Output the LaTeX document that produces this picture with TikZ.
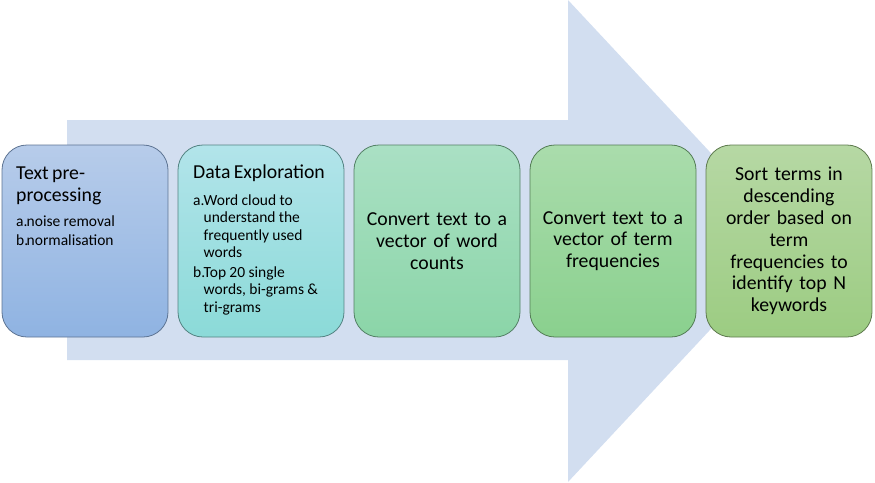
\documentclass[tikz,border=0pt]{standalone}
\usepackage{fontspec}
\setmainfont{Carlito}
\usepackage{xcolor}
\usepackage{tikz}
\usetikzlibrary{positioning}

\definecolor{arrowfill}{RGB}{210,222,240}
\definecolor{preTop}{RGB}{183,204,234}
\definecolor{preBot}{RGB}{143,179,226}
\definecolor{expTop}{RGB}{178,228,234}
\definecolor{expBot}{RGB}{139,218,216}
\definecolor{cntTop}{RGB}{170,224,196}
\definecolor{cntBot}{RGB}{139,213,168}
\definecolor{tfTop}{RGB}{170,220,172}
\definecolor{tfBot}{RGB}{138,208,142}
\definecolor{srtTop}{RGB}{182,216,164}
\definecolor{srtBot}{RGB}{156,204,130}

\newcommand{\titlefont}{\fontsize{19.75}{21.8}\selectfont}
\newcommand{\itemfont}{\fontsize{15.5}{17.5}\selectfont}
\newcommand{\stageitem}[2]{\noindent\makebox[10.5pt][l]{\strut #1}\parbox[t]{130pt}{\raggedright #2\strut}\par}

\tikzset{
  stagebox/.style={line width=0.8pt, rounded corners=25pt, minimum width=166pt,
    minimum height=192pt, inner sep=0pt, outer sep=0pt, text width=152pt,
    align=center, font=\titlefont},
  stagetext/.style={inner sep=0pt, text width=146pt, align=left, anchor=north west}
}

\begin{document}
\begin{tikzpicture}[x=1pt, y=-1pt]
\useasboundingbox (0,0) rectangle (875,482);

% big background arrow
\fill[arrowfill] (67,120) -- (568,120) -- (568,0) -- (793,241) -- (568,482)
  -- (568,360) -- (67,360) -- cycle;

% the five stages
\node[stagebox, draw=preBot!65!black, top color=preTop, bottom color=preBot] (prep) at (85,241) {};
\node[stagebox, draw=expBot!60!black, top color=expTop, bottom color=expBot, right=10pt of prep] (explore) {};
\node[stagebox, draw=cntBot!60!black, top color=cntTop, bottom color=cntBot, right=10pt of explore] (counts)
  {Convert text to a\\vector of word\\counts};
\node[stagebox, draw=tfBot!60!black, top color=tfTop, bottom color=tfBot, right=10pt of counts] (termfreq)
  {Convert text to a\\vector of term\\frequencies};
\node[stagebox, draw=srtBot!60!black, top color=srtTop, bottom color=srtBot, right=10pt of termfreq] (sortterms)
  {Sort terms in\\descending\\order based on\\term\\frequencies to\\identify top N\\keywords};

% texts of the first two stages
\node[stagetext, below right=22pt and 14pt of prep.north west] (preptext)
  {\titlefont Text pre-\\processing\par\vspace{7.5pt}
   \itemfont\stageitem{a.}{noise removal}\vspace{1pt}\stageitem{b.}{normalisation}};
\node[stagetext, below right=20pt and 15pt of explore.north west] (exploretext)
  {\titlefont Data Exploration\par\vspace{9pt}
   \itemfont\stageitem{a.}{Word cloud to\\understand the\\frequently used\\words}\vspace{1pt}%
   \stageitem{b.}{Top 20 single\\words, bi-grams \&\\tri-grams}};
\end{tikzpicture}
\end{document}
